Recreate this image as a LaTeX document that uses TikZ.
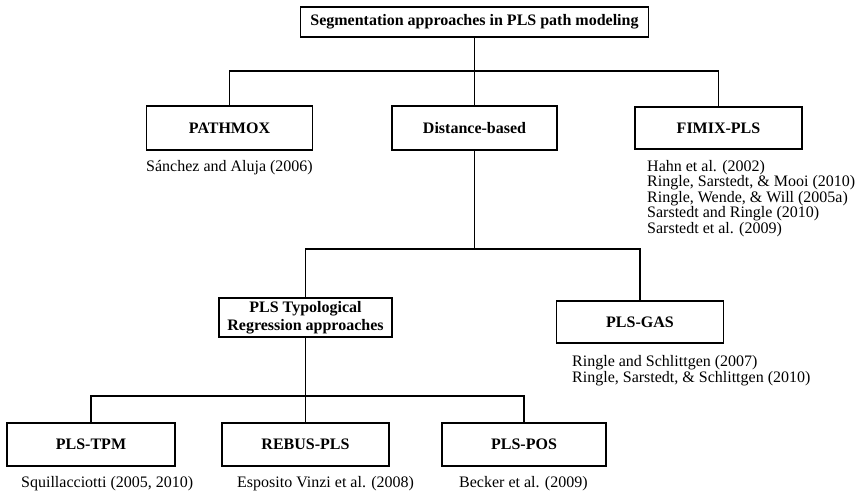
\documentclass[tikz,border=0pt]{standalone}
\usepackage{fontspec}
\setmainfont{Liberation Serif}
\begin{document}
\begin{tikzpicture}[x=1pt,y=-1pt,
  box/.style={draw, line width=1.7pt, inner sep=0pt, minimum width=166pt,
    minimum height=44pt, align=center,
    font=\bfseries\fontsize{16}{19}\selectfont},
  refs/.style={inner sep=0pt, anchor=base west, align=left,
    font=\fontsize{16}{15.5}\selectfont},
  conn/.style={line width=1.7pt}]
\path[use as bounding box] (0,0) rectangle (860,493);

% boxes
\node[box, minimum width=348pt, minimum height=30pt] (top) at (474.5,22) {Segmentation approaches in PLS path modeling};
\node[box] (pathmox) at (229.5,128) {PATHMOX};
\node[box, minimum width=165pt] (dist) at (474.5,128) {Distance-based};
\node[box, minimum width=167pt, minimum height=42pt] (fimix) at (718.5,128) {FIMIX-PLS};
\node[box, minimum width=173pt, minimum height=39pt,
      font=\bfseries\fontsize{16}{18}\selectfont] (typ) at (305.5,317.5) {PLS Typological\\Regression approaches};
\node[box, minimum width=167pt, minimum height=42pt] (gas) at (640,322) {PLS-GAS};
\node[box, minimum width=168pt, minimum height=43pt] (tpm) at (91,444.5) {PLS-TPM};
\node[box, minimum width=167pt, minimum height=43pt] (rebus) at (305.5,444.5) {REBUS-PLS};
\node[box, minimum width=164pt, minimum height=43pt] (pos) at (524,444.5) {PLS-POS};

% references (anchored at the baseline of their last line)
\node[refs] (rpathmox) at (146,171) {Sánchez and Aluja (2006)};
\node[refs] (rfimix) at (647,233) {Hahn et al. (2002)\\Ringle, Sarstedt, \& Mooi (2010)\\Ringle, Wende, \& Will (2005a)\\Sarstedt and Ringle (2010)\\Sarstedt et al. (2009)};
\node[refs] (rgas) at (572,382) {Ringle and Schlittgen (2007)\\Ringle, Sarstedt, \& Schlittgen (2010)};
\node[refs] (rtpm) at (21,487) {Squillacciotti (2005, 2010)};
\node[refs] (rrebus) at (237,487) {Esposito Vinzi et al. (2008)};
\node[refs] (rpos) at (459,487) {Becker et al. (2009)};

% junctions
\coordinate (j1) at (top.south |- 0,71);
\coordinate (j2) at (dist.south |- 0,249);
\coordinate (j3) at (typ.south |- 0,396);

% connectors
\draw[conn] (top.south) -- (dist.north);
\draw[conn] (pathmox.north) |- (j1) -| (fimix.north);
\draw[conn] (dist.south) -- (j2);
\draw[conn] (typ.north) |- (j2) -| (gas.north);
\draw[conn] (typ.south) -- (rebus.north);
\draw[conn] (tpm.north) |- (j3) -| (pos.north);
\end{tikzpicture}
\end{document}
